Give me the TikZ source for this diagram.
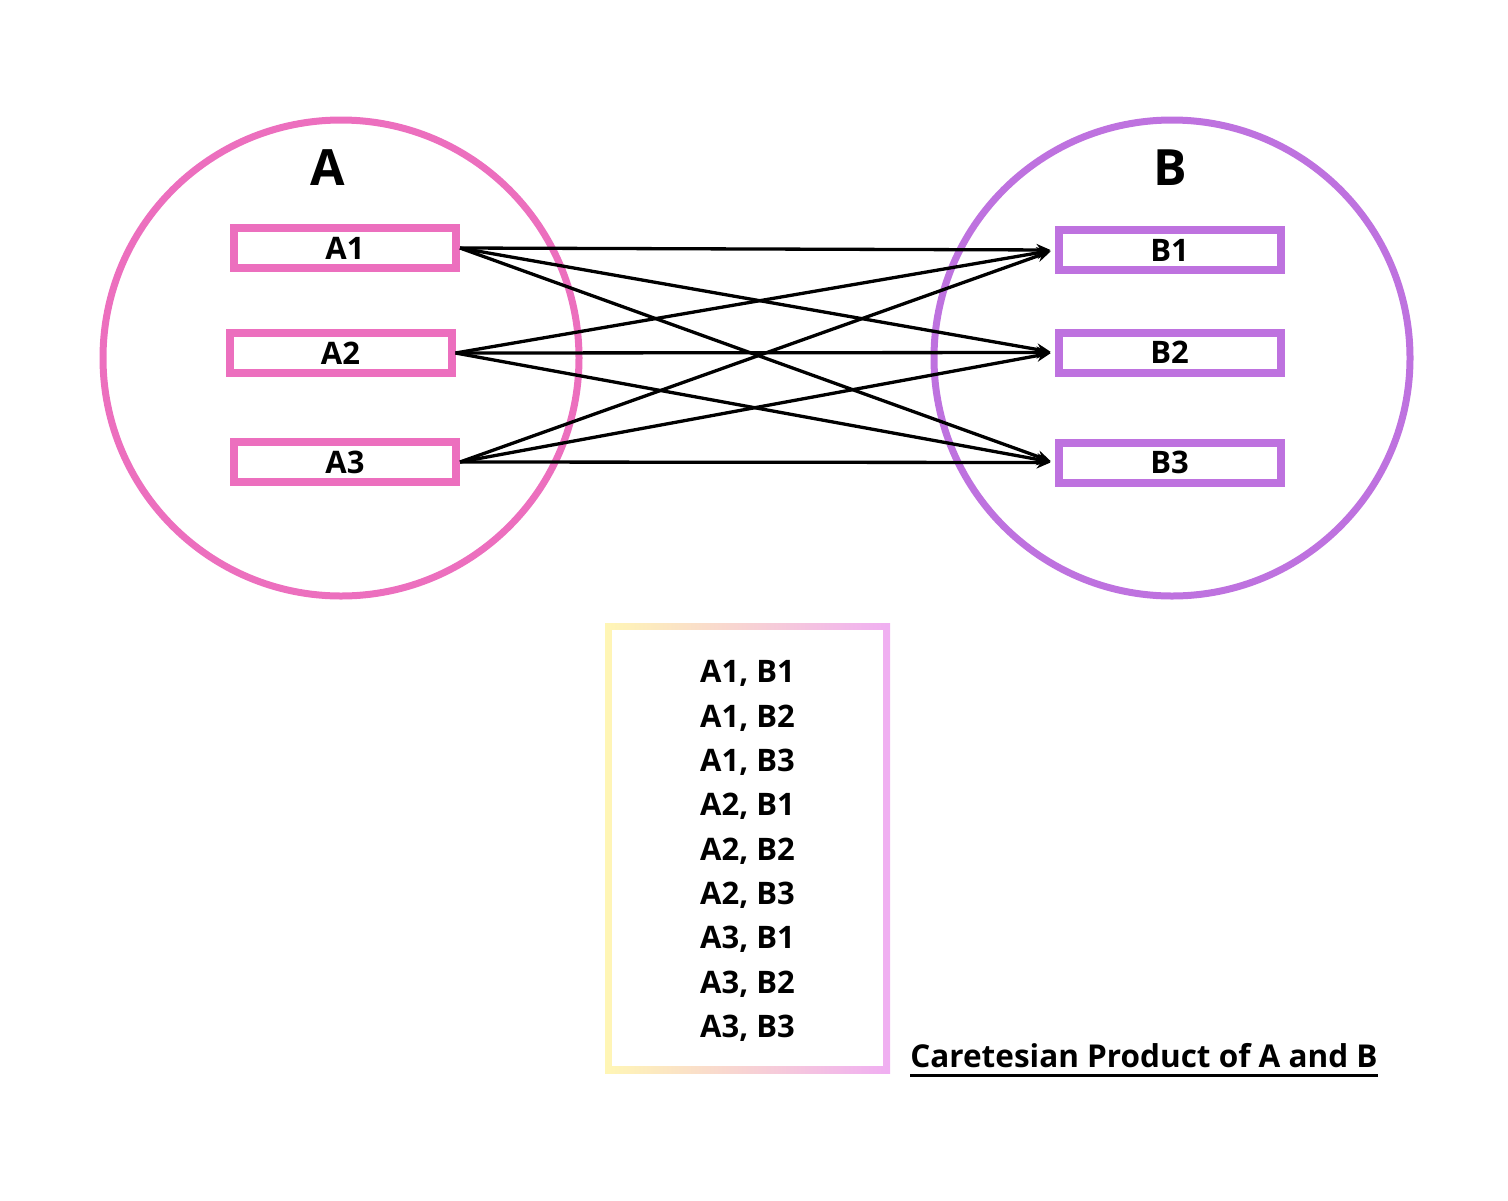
\documentclass[tikz,border=0pt]{standalone}
\usepackage{fontspec}
\setmainfont{Open Sans}
\usetikzlibrary{arrows.meta,positioning}
\definecolor{setpink}{HTML}{EC6FBE}
\definecolor{setpurple}{HTML}{BE72DF}
\definecolor{frameyellow}{HTML}{FFF6B5}
\definecolor{framepink}{HTML}{F0AEF2}

\begin{document}
\begin{tikzpicture}[x=1pt,y=-1pt,
  setcircle/.style={circle, draw, line width=7pt, minimum size=476pt, inner sep=0pt},
  elem/.style={rectangle, draw, line width=8pt, fill=white, minimum width=222pt, minimum height=40pt, inner sep=0pt, font=\fontsize{31}{33}\selectfont\bfseries},
  setname/.style={font=\fontsize{50}{52}\selectfont\bfseries},
  pairarrow/.style={-{Stealth[length=14pt,width=12pt]}, line width=3.3pt, shorten >=4pt}]
\useasboundingbox (0,0) rectangle (1508,1200);

% Sets
\node[setcircle, draw=setpink] (setA) at (341,358) {};
\node[setcircle, draw=setpurple] (setB) at (1172,358) {};
\node[setname] (nameA) at (328,168) {A};
\node[setname] (nameB) at (1170,168) {B};

% Elements of A
\node[elem, draw=setpink] (A1) at (345,248) {A1};
\node[elem, draw=setpink] (A2) at (340.5,353) {A2};
\node[elem, draw=setpink] (A3) at (345,462) {A3};

% Elements of B
\node[elem, draw=setpurple] (B1) at (1169.5,250) {B1};
\node[elem, draw=setpurple] (B2) at (1169.5,352.5) {B2};
\node[elem, draw=setpurple] (B3) at (1169.5,462.5) {B3};

% Arrows
\foreach \a in {1,2,3}{
  \foreach \b in {1,2,3}{
    \draw[pairarrow] (A\a.east) -- (B\b.west);
  }
}

% Ordered pairs
\shade[left color=frameyellow, right color=framepink] (605,623) rectangle (890,1073);
\fill[white] (612,630) rectangle (883,1066);
\node[align=center, font=\fontsize{31}{44.3}\selectfont\bfseries] (pairs) at (747.5,851) {A1, B1\\A1, B2\\A1, B3\\A2, B1\\A2, B2\\A2, B3\\A3, B1\\A3, B2\\A3, B3};

% Caption
\node[anchor=base, font=\fontsize{31.5}{33}\selectfont\bfseries, inner sep=0pt] (caption) at (1144,1067) {Caretesian Product of A and B};
\draw[line width=3pt] ([yshift=-8pt]caption.base west) -- ([yshift=-8pt]caption.base east);
\end{tikzpicture}
\end{document}
